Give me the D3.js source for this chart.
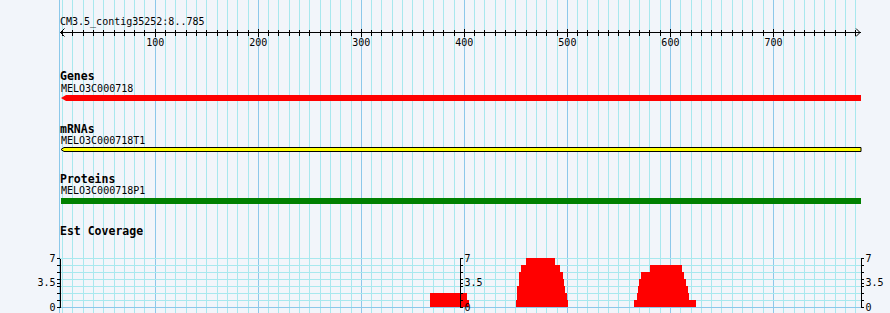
<!DOCTYPE html>
<html><head><meta charset="utf-8">
<script src="https://cdn.jsdelivr.net/npm/d3@7"></script>
<style>
html,body{margin:0;padding:0;background:#f2f5fa;}
svg{display:block;}
</style></head><body>
<svg id="c" width="890" height="313"></svg>
<script>
// ---- data ----
const refName = "CM3.5_contig35252";
const regionStart = 8;
const regionEnd = 785;
const rulerStep = 10;
const rulerLabelStep = 100;
const trackLabels = ["Genes", "mRNAs", "Proteins", "Est Coverage"];
const featureNames = ["MELO3C000718", "MELO3C000718T1", "MELO3C000718P1"];
const featureStart = [8, 8, 8];
const featureEnd = [785, 785, 785];
const featureStrand = [-1, -1, 0];
const featureColor = ["#ff0000", "#ffff00", "#008000"];
const covStart = [367, 403,
  450.5, 452, 453.5, 455.5, 460.5, 488.5, 493.5, 496, 497.5, 498.5, 500,
  565.5, 568, 569, 570, 572, 581, 611.5, 613.5, 616, 617.5, 619];
const covEnd = [403, 405,
  452, 453.5, 455.5, 460.5, 488.5, 493.5, 496, 497.5, 498.5, 500, 501,
  568, 569, 570, 572, 581, 611.5, 613.5, 616, 617.5, 619, 625.5];
const covValue = [2, 1,
  1, 3, 5, 6, 7, 6, 5, 4, 3, 2, 1,
  1, 2, 3, 4, 5, 6, 5, 4, 3, 2, 1];
const covMax = 7;
const covTickLabels = [0, 3.5, 7];
const covTicks = [0, 1, 2, 3, 3.5, 4, 5, 6, 7];

// ---- drawing ----
const W = 890, H = 313;
const minorColor = "#a8e8ee", majorColor = "#8cc8ea";
const mono = "'DejaVu Sans Mono', monospace";
const svg = d3.select("#c");
svg.append("rect").attr("width", W).attr("height", H).attr("fill", "#f2f5fa");

const x = d3.scaleLinear().domain([regionStart, regionEnd]).range([60, 860.5]);
const px = v => Math.round(x(v)) + 0.5;

// vertical grid
const gridVals = d3.range(rulerStep, regionEnd, rulerStep);
svg.append("g").attr("shape-rendering", "crispEdges")
  .selectAll("line").data(gridVals).join("line")
  .attr("x1", px).attr("x2", px).attr("y1", 0).attr("y2", H)
  .attr("stroke", d => d % rulerLabelStep === 0 ? majorColor : minorColor);
svg.append("line").attr("shape-rendering", "crispEdges")
  .attr("x1", Math.round(x(regionStart)) - 0.5).attr("x2", Math.round(x(regionStart)) - 0.5)
  .attr("y1", 0).attr("y2", H).attr("stroke", majorColor);

// ruler
svg.append("text").attr("x", x(regionStart)).attr("y", 25)
  .attr("font-family", mono).attr("font-size", 10).attr("fill", "#000")
  .text(`${refName}:${regionStart}..${regionEnd}`);

const ruler = svg.append("g").attr("transform", "translate(0,32.5)");
ruler.call(d3.axisBottom(x).tickValues(gridVals).tickSizeOuter(0).tickSizeInner(3)
  .tickFormat(d => d % rulerLabelStep === 0 ? d : ""));
ruler.select(".domain").remove();
ruler.selectAll(".tick line")
  .attr("y1", d => d % rulerLabelStep === 0 ? -4 : -3)
  .attr("y2", d => d % rulerLabelStep === 0 ? 4 : 3)
  .attr("stroke", "#000").attr("shape-rendering", "crispEdges");
ruler.selectAll(".tick text").attr("y", 13.5).attr("dy", 0)
  .attr("font-family", mono).attr("font-size", 10).attr("fill", "#000");
const rx0 = x(regionStart), rx1 = x(regionEnd);
ruler.append("line").attr("x1", rx0).attr("x2", rx1).attr("y1", 0).attr("y2", 0)
  .attr("stroke", "#000").attr("shape-rendering", "crispEdges");
ruler.append("path").attr("d", `M${rx0 + 4.5},-4L${rx0 + 0.5},0L${rx0 + 4.5},4`)
  .attr("fill", "none").attr("stroke", "#000");
ruler.append("path").attr("d", `M${rx1 - 4.5},-4L${rx1 - 0.5},0L${rx1 - 4.5},4`)
  .attr("fill", "none").attr("stroke", "#000");

// feature tracks
const labelY = [80, 133, 183, 235];
const nameY = [92, 144, 194];
const barTop = [95, 147.5, 198];
const barH = [6, 4, 6];
trackLabels.forEach((t, i) => {
  svg.append("text").attr("x", 60).attr("y", labelY[i])
    .attr("font-family", mono).attr("font-weight", "bold").attr("font-size", 11.5)
    .attr("fill", "#000").text(t);
});
featureNames.forEach((n, i) => {
  svg.append("text").attr("x", 61).attr("y", nameY[i])
    .attr("font-family", mono).attr("font-size", 10).attr("fill", "#000").text(n);
  const x0 = x(featureStart[i]) + 1, x1 = x(featureEnd[i]) + 0.5;
  const t = barTop[i], h = barH[i], m = t + h / 2;
  let d;
  if (featureStrand[i] < 0) {
    const a = i === 0 ? 5 : 3;
    d = `M${x0},${m}L${x0 + a},${t}L${x1},${t}L${x1},${t + h}L${x0 + a},${t + h}Z`;
  } else {
    d = `M${x0},${t}L${x1},${t}L${x1},${t + h}L${x0},${t + h}Z`;
  }
  const p = svg.append("path").attr("d", d).attr("fill", featureColor[i]);
  if (i === 1) p.attr("stroke", "#000").attr("stroke-width", 1);
});

// coverage track
const cy = d3.scaleLinear().domain([0, covMax]).range([307, 258]);
svg.append("g").attr("shape-rendering", "crispEdges")
  .selectAll("line").data(d3.range(0, covMax + 1)).join("line")
  .attr("x1", x(regionStart)).attr("x2", x(regionEnd))
  .attr("y1", d => Math.round(cy(d)) + 0.5).attr("y2", d => Math.round(cy(d)) + 0.5)
  .attr("stroke", d => d === 0 ? majorColor : minorColor);

svg.append("g").attr("shape-rendering", "crispEdges")
  .selectAll("rect").data(covValue).join("rect")
  .attr("x", (d, i) => x(covStart[i]))
  .attr("width", (d, i) => x(covEnd[i]) - x(covStart[i]))
  .attr("y", d => cy(d)).attr("height", d => cy(0) - cy(d))
  .attr("fill", "#ff0000");

function covAxis(pos, side) {
  const ax = side === "left" ? d3.axisLeft(cy) : d3.axisRight(cy);
  ax.tickValues(covTicks).tickSizeInner(3).tickSizeOuter(0)
    .tickFormat(d => covTickLabels.includes(d) ? d : "");
  const g = svg.append("g").attr("transform", `translate(${Math.round(x(pos)) - (side === "left" ? 0.5 : 0)},0)`).call(ax);
  g.selectAll("path,line").attr("stroke", "#000").attr("shape-rendering", "crispEdges");
  g.selectAll("text").attr("font-family", mono).attr("font-size", 10).attr("fill", "#000")
    .attr("x", side === "left" ? -4 : 4.5);
}
covAxis(regionStart, "left");
covAxis((regionStart + regionEnd) / 2, "right");
covAxis(regionEnd, "right");
</script>
</body></html>
